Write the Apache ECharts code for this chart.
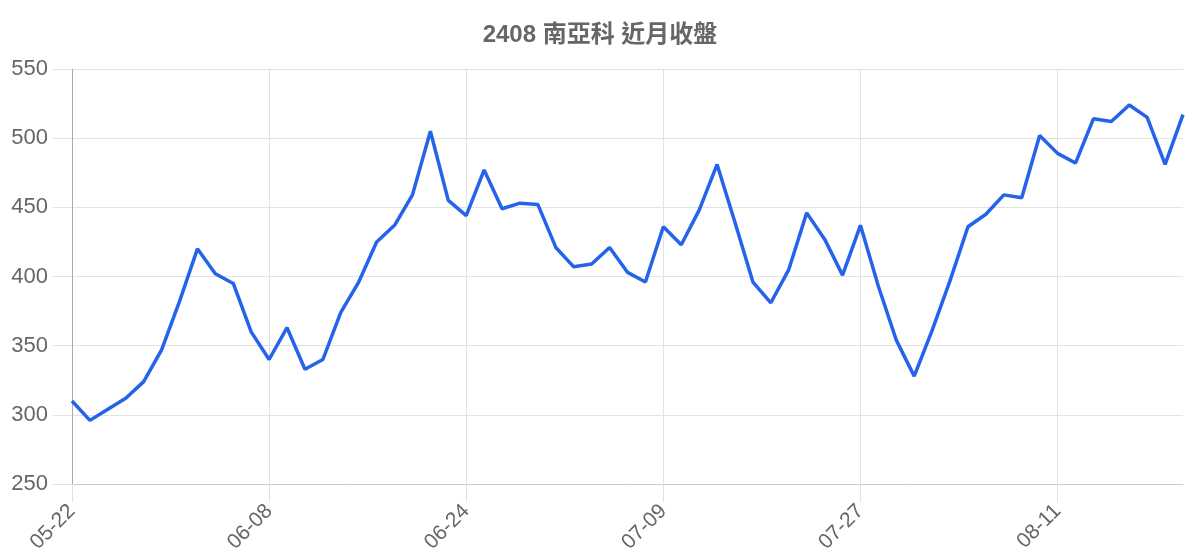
<!DOCTYPE html>
<html>
<head>
<meta charset="utf-8">
<title>2408 南亞科 近月收盤</title>
<script src="https://cdn.jsdelivr.net/npm/echarts@6/dist/echarts.min.js"></script>
<style>
    html, body { margin: 0; padding: 0; background: #fff; }
    #main { width: 1200px; height: 560px; }
</style>
</head>
<body>
<div id="main"></div>
<script>
// 近月收盤資料
var dates = [
    '05-22', '05-25', '05-26', '05-27', '05-28', '05-29', '06-01', '06-02', '06-03', '06-04',
    '06-05', '06-08', '06-09', '06-10', '06-11', '06-12', '06-15', '06-16', '06-17', '06-18',
    '06-22', '06-23', '06-24', '06-25', '06-26', '06-29', '06-30', '07-01', '07-02', '07-03',
    '07-06', '07-07', '07-08', '07-09', '07-10', '07-13', '07-14', '07-15', '07-16', '07-20',
    '07-21', '07-22', '07-23', '07-24', '07-27', '07-28', '07-29', '07-30', '07-31', '08-03',
    '08-04', '08-05', '08-06', '08-07', '08-10', '08-11', '08-12', '08-13', '08-14', '08-17',
    '08-18', '08-19', '08-20'
];
var closes = [
    310, 296, 304, 312, 324, 347, 382, 420, 402, 395,
    360, 340, 363, 333, 340, 374, 396, 425, 437, 459,
    505, 455, 444, 477, 449, 453, 452, 421, 407, 409,
    421, 403, 396, 436, 423, 448, 481, 439, 396, 381,
    405, 446, 427, 401, 437, 393, 354, 328, 361, 397,
    436, 445, 459, 457, 502, 489, 482, 514, 512, 524,
    515, 481, 517
];
var titleText = '2408 南亞科 近月收盤';

var fontFam = "'Liberation Sans', 'Noto Sans CJK TC', sans-serif";

var myChart = echarts.init(document.getElementById('main'));

var option = {
    backgroundColor: '#fff',
    animation: false,
    title: {
        text: titleText,
        left: 'center',
        top: 18,
        textStyle: {
            color: '#666',
            fontSize: 24,
            fontWeight: 'bold',
            fontFamily: fontFam
        }
    },
    grid: {
        left: 72,
        right: 17,
        top: 69,
        bottom: 76
    },
    xAxis: {
        type: 'category',
        data: dates,
        boundaryGap: false,
        axisLine: { show: true, lineStyle: { color: '#ccc', width: 1 } },
        axisTick: {
            show: true,
            interval: 10,
            length: 18,
            lineStyle: { color: '#e2e2e2' }
        },
        axisLabel: {
            interval: 10,
            rotate: 45,
            color: '#666',
            fontSize: 21,
            margin: 24,
            fontFamily: fontFam
        },
        splitLine: {
            show: true,
            interval: 10,
            lineStyle: { color: '#e2e2e2', width: 1 }
        }
    },
    yAxis: {
        type: 'value',
        min: 250,
        max: 550,
        interval: 50,
        axisLine: { show: true, lineStyle: { color: '#aaa', width: 1 } },
        axisTick: {
            show: true,
            length: 19,
            lineStyle: { color: '#e2e2e2' }
        },
        axisLabel: {
            color: '#666',
            fontSize: 22,
            margin: 24,
            fontFamily: fontFam
        },
        splitLine: {
            show: true,
            lineStyle: { color: '#e2e2e2', width: 1 }
        }
    },
    series: [
        {
            name: '收盤',
            type: 'line',
            data: closes,
            symbol: 'none',
            lineStyle: { color: '#2563eb', width: 3.5 },
            itemStyle: { color: '#2563eb' }
        }
    ]
};

myChart.setOption(option);
</script>
</body>
</html>
